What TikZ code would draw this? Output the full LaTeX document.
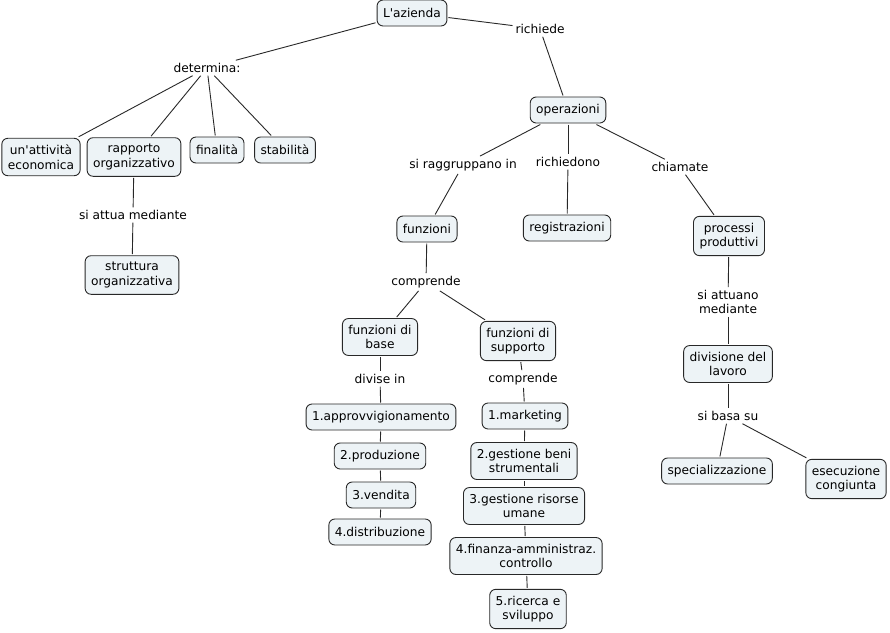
\documentclass[tikz,border=0pt]{standalone}
\usepackage{fontspec}
\newfontfamily\vf{DejaVu Sans}
\definecolor{boxfill}{RGB}{237,243,246}
\definecolor{linec}{RGB}{40,40,40}
\begin{document}
\begin{tikzpicture}[x=1pt,y=-1pt,
  box/.style={draw=linec, fill=boxfill, rounded corners=6pt, line width=0.9pt, align=center,
    font=\vf\fontsize{12.2}{14.5}\selectfont, inner xsep=6pt, inner ysep=6.5pt, minimum height=26pt, outer sep=1.5pt},
  lab/.style={align=center, font=\vf\fontsize{12.2}{14.5}\selectfont, inner sep=2pt, outer sep=1pt},
  con/.style={draw=linec, line width=0.9pt}]
\useasboundingbox (0,0) rectangle (890,632);
\fill[white] (0,0) rectangle (890,632);
% boxes
\node[box] (az) at (412,13) {L'azienda};
\node[box] (op) at (568,110) {operazioni};
\node[box] (att) at (41,157) {un'attività\\economica};
\node[box] (rap) at (134,157) {rapporto\\organizzativo};
\node[box] (fin) at (217,150) {finalità};
\node[box] (sta) at (285,150) {stabilità};
\node[box] (str) at (132,275) {struttura\\organizzativa};
\node[box] (fun) at (427,229) {funzioni};
\node[box] (reg) at (567,228) {registrazioni};
\node[box] (pro) at (729,236) {processi\\produttivi};
\node[box] (bas) at (380,337) {funzioni di\\base};
\node[box] (sup) at (518,341) {funzioni di\\supporto};
\node[box] (b1) at (381,417) {1.approvvigionamento};
\node[box] (b2) at (380,456) {2.produzione};
\node[box] (b3) at (381,495) {3.vendita};
\node[box] (b4) at (380,532) {4.distribuzione};
\node[box] (s1) at (525,416) {1.marketing};
\node[box] (s2) at (524,461) {2.gestione beni\\strumentali};
\node[box] (s3) at (524,506) {3.gestione risorse\\umane};
\node[box] (s4) at (526,556) {4.finanza-amministraz.\\controllo};
\node[box] (s5) at (528,609) {5.ricerca e\\sviluppo};
\node[box] (div) at (728,364) {divisione del\\lavoro};
\node[box] (spe) at (717,471) {specializzazione};
\node[box] (ese) at (846,479) {esecuzione\\congiunta};
% labels
\node[lab] (ric) at (540,29) {richiede};
\node[lab] (det) at (207,68) {determina:};
\node[lab] (sam) at (133,215) {si attua mediante};
\node[lab] (rag) at (463,165) {si raggruppano in};
\node[lab] (rno) at (568,162) {richiedono};
\node[lab] (chi) at (680,167) {chiamate};
\node[lab] (com) at (426,282) {comprende};
\node[lab] (dvi) at (380,379) {divise in};
\node[lab] (com2) at (523,379) {comprende};
\node[lab] (stm) at (728,302) {si attuano\\mediante};
\node[lab] (sbs) at (728,416) {si basa su};
% connectors
\draw[con] (az) -- (det);
\draw[con] (det) -- (att);
\draw[con] (det) -- (rap);
\draw[con] (det) -- (fin);
\draw[con] (det) -- (sta);
\draw[con] (az) -- (ric);
\draw[con] (ric) -- (op);
\draw[con] (rap) -- (sam);
\draw[con] (sam) -- (str);
\draw[con] (op) -- (rag);
\draw[con] (rag) -- (fun);
\draw[con] (op) -- (rno);
\draw[con] (rno) -- (reg);
\draw[con] (op) -- (chi);
\draw[con] (chi) -- (pro);
\draw[con] (fun) -- (com);
\draw[con] (com) -- (bas);
\draw[con] (com) -- (sup);
\draw[con] (bas) -- (dvi);
\draw[con] (dvi) -- (b1);
\draw[con] (b1) -- (b2);
\draw[con] (b2) -- (b3);
\draw[con] (b3) -- (b4);
\draw[con] (sup) -- (com2);
\draw[con] (com2) -- (s1);
\draw[con] (s1) -- (s2);
\draw[con] (s2) -- (s3);
\draw[con] (s3) -- (s4);
\draw[con] (s4) -- (s5);
\draw[con] (pro) -- (stm);
\draw[con] (stm) -- (div);
\draw[con] (div) -- (sbs);
\draw[con] (sbs) -- (spe);
\draw[con] (sbs) -- (ese);
\end{tikzpicture}
\end{document}
